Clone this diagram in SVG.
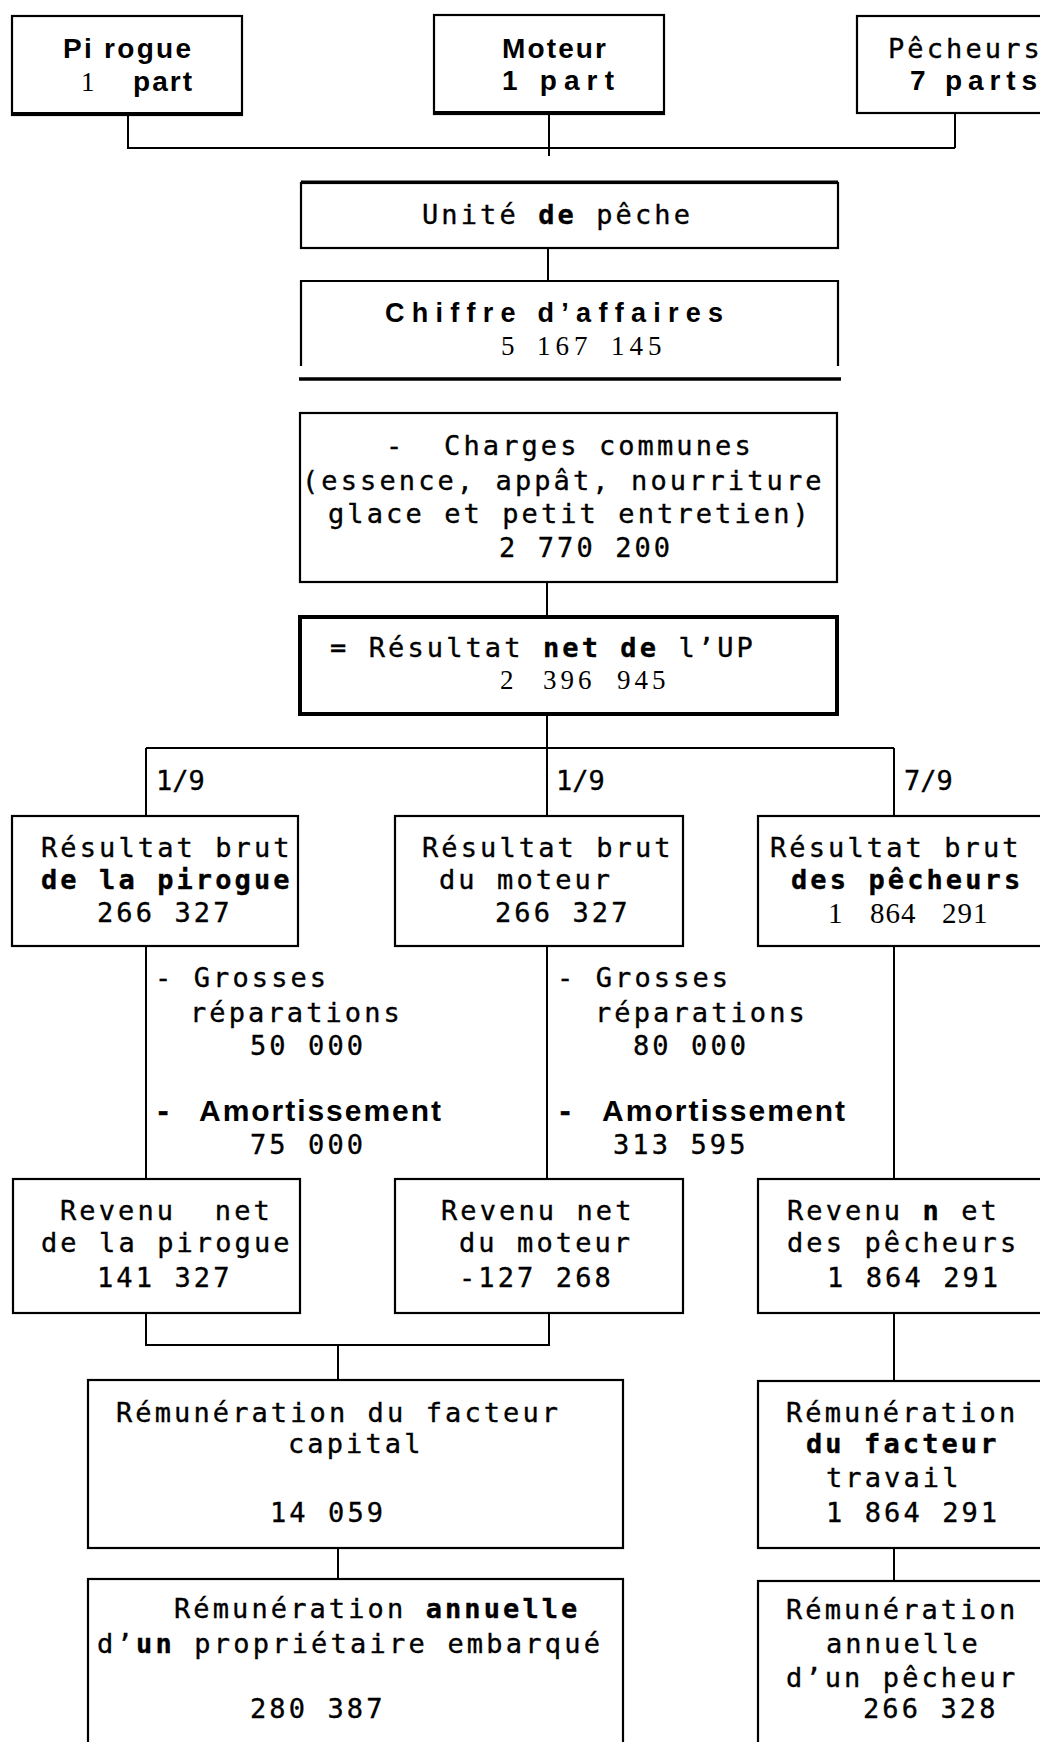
<svg xmlns="http://www.w3.org/2000/svg" width="1040" height="1742" viewBox="0 0 1040 1742">
<style>
.box{fill:none;stroke:#000;stroke-width:2.2}
.thick{fill:none;stroke:#000;stroke-width:4}
.ln{fill:none;stroke:#000;stroke-width:2}
.m{font-family:"DejaVu Sans Mono",monospace;font-size:27px;letter-spacing:3.1px;fill:#000;stroke:#000;stroke-width:0.35}
.b{font-weight:bold}
.h{font-family:"Liberation Sans",Arial,sans-serif;font-size:28px;font-weight:bold;fill:#000}
.s{font-family:"Liberation Serif","Times New Roman",serif;font-size:27px;fill:#000}
.f{letter-spacing:0px}
</style>
<rect width="1040" height="1742" fill="#fff"/>
<g id="connectors">
<path class="ln" d="M128,115 V148 H955 M955,113 V148 M549,114 V156"/>
<path class="ln" d="M548,248 V281"/>
<path class="ln" d="M547,582 V616 M547,714 V748 M146,748 H894 M146,748 V816 M547,748 V816 M894,748 V816"/>
<path class="ln" d="M146,946 V1179 M547,946 V1179 M894,946 V1179"/>
<path class="ln" d="M146,1313 V1345 H549 V1313 M338,1345 V1380 M894,1313 V1381"/>
<path class="ln" d="M338,1548 V1579 M894,1548 V1581"/>
</g>
<g id="pirogue">
<rect class="box" x="12" y="16" width="230" height="99"/>
<line class="thick" x1="11" y1="114" x2="243" y2="114"/>
<text class="h" x="63" y="58" textLength="128" lengthAdjust="spacing">Pi rogue</text>
<text class="s" x="81" y="91">1</text>
<text class="h" x="133" y="91" textLength="59" lengthAdjust="spacing">part</text>
</g>
<g id="moteur">
<rect class="box" x="434" y="15" width="230" height="99"/>
<line class="thick" x1="433" y1="113" x2="665" y2="113"/>
<text class="h" x="502" y="58" textLength="104" lengthAdjust="spacing">Moteur</text>
<text class="h" x="502" y="90" textLength="112" lengthAdjust="spacing">1 part</text>
</g>
<g id="pecheurs">
<rect class="box" x="857" y="16" width="200" height="97"/>
<text class="m" x="888" y="58">Pêcheurs</text>
<text class="h" x="910" y="90" textLength="127" lengthAdjust="spacing">7 parts</text>
</g>
<g id="unite">
<rect class="box" x="301" y="183" width="537" height="65"/>
<line class="thick" x1="301" y1="182" x2="838" y2="182" style="stroke-width:3"/>
<text class="m" x="422" y="224">Unité <tspan class="b">de</tspan> pêche</text>
</g>
<g id="chiffre">
<path class="box" d="M301,366 V281 H838 V366"/>
<line class="thick" x1="299" y1="379" x2="841" y2="379" style="stroke-width:3.5"/>
<text class="h" x="385" y="322" style="font-size:27px" textLength="338" lengthAdjust="spacing">Chiffre  d’affaires</text>
<text class="s" y="355" style="letter-spacing:5px"><tspan x="501">5 </tspan><tspan x="537">167 </tspan><tspan x="611">145</tspan></text>
</g>
<g id="charges">
<rect class="box" x="300" y="413" width="537" height="169"/>
<text class="m" x="386" y="455" xml:space="preserve">-  Charges communes</text>
<text class="m" x="302" y="490">(essence, appât, nourriture</text>
<text class="m" x="328" y="523">glace et petit entretien)</text>
<text class="m" x="499" y="557">2 770 200</text>
</g>
<g id="resultat-net">
<rect class="thick" x="300" y="617" width="537" height="97"/>
<text class="m" x="330" y="657">= Résultat <tspan class="b">net de</tspan> l’UP</text>
<text class="s" y="689" style="letter-spacing:4px"><tspan x="500">2 </tspan><tspan x="543">396 </tspan><tspan x="617">945</tspan></text>
</g>
<g id="labels">
<text class="m f" x="156" y="790">1/9</text>
<text class="m f" x="556" y="790">1/9</text>
<text class="m f" x="904" y="790">7/9</text>
</g>
<g id="brut-pirogue">
<rect class="box" x="12" y="816" width="286" height="130"/>
<text class="m" x="41" y="857">Résultat brut</text>
<text class="m b" x="41" y="889">de la pirogue</text>
<text class="m" x="97" y="922">266 327</text>
</g>
<g id="brut-moteur">
<rect class="box" x="395" y="816" width="288" height="130"/>
<text class="m" x="422" y="857">Résultat brut</text>
<text class="m" x="439" y="889">du moteur</text>
<text class="m" x="495" y="922">266 327</text>
</g>
<g id="brut-pecheurs">
<rect class="box" x="758" y="816" width="300" height="130"/>
<text class="m" x="770" y="857">Résultat brut</text>
<text class="m b" x="791" y="889">des pêcheurs</text>
<text class="s" y="923" style="font-size:29px;letter-spacing:1px"><tspan x="828">1 </tspan><tspan x="870">864 </tspan><tspan x="942">291</tspan></text>
</g>
<g id="deductions-pirogue">
<text class="m" x="155" y="987">- Grosses</text>
<text class="m" x="190" y="1022">réparations</text>
<text class="m" x="250" y="1055">50 000</text>
<text class="m b" x="155" y="1121">-</text>
<text class="h" x="199" y="1121" style="font-size:30px" textLength="242" lengthAdjust="spacing">Amortissement</text>
<text class="m" x="250" y="1154">75 000</text>
</g>
<g id="deductions-moteur">
<text class="m" x="557" y="987">- Grosses</text>
<text class="m" x="595" y="1022">réparations</text>
<text class="m" x="633" y="1055">80 000</text>
<text class="m b" x="557" y="1121">-</text>
<text class="h" x="602" y="1121" style="font-size:30px" textLength="243" lengthAdjust="spacing">Amortissement</text>
<text class="m" x="613" y="1154">313 595</text>
</g>
<g id="net-pirogue">
<rect class="box" x="13" y="1179" width="287" height="134"/>
<text class="m" x="60" y="1220" xml:space="preserve">Revenu  net</text>
<text class="m" x="41" y="1252">de la pirogue</text>
<text class="m" x="97" y="1287">141 327</text>
</g>
<g id="net-moteur">
<rect class="box" x="395" y="1179" width="288" height="134"/>
<text class="m" x="441" y="1220">Revenu net</text>
<text class="m" x="459" y="1252">du moteur</text>
<text class="m" x="459" y="1287">-127 268</text>
</g>
<g id="net-pecheurs">
<rect class="box" x="758" y="1179" width="300" height="134"/>
<text class="m" x="787" y="1220">Revenu <tspan class="b">n</tspan> et</text>
<text class="m" x="787" y="1252">des pêcheurs</text>
<text class="m" x="827" y="1287">1 864 291</text>
</g>
<g id="facteur-capital">
<rect class="box" x="88" y="1380" width="535" height="168"/>
<text class="m" x="116" y="1422">Rémunération du facteur</text>
<text class="m" x="288" y="1453">capital</text>
<text class="m" x="270" y="1522">14 059</text>
</g>
<g id="facteur-travail">
<rect class="box" x="758" y="1381" width="300" height="167"/>
<text class="m" x="786" y="1422">Rémunération</text>
<text class="m b" x="806" y="1453">du facteur</text>
<text class="m" x="826" y="1487">travail</text>
<text class="m" x="826" y="1522">1 864 291</text>
</g>
<g id="proprietaire">
<rect class="box" x="88" y="1579" width="535" height="200"/>
<text class="m" x="174" y="1618">Rémunération <tspan class="b">annuelle</tspan></text>
<text class="m" x="97" y="1653" textLength="506" lengthAdjust="spacing">d’<tspan class="b">un</tspan> propriétaire embarqué</text>
<text class="m" x="250" y="1718">280 387</text>
</g>
<g id="pecheur">
<rect class="box" x="758" y="1581" width="300" height="200"/>
<text class="m" x="786" y="1619">Rémunération</text>
<text class="m" x="826" y="1653">annuelle</text>
<text class="m" x="786" y="1687">d’un pêcheur</text>
<text class="m" x="863" y="1718">266 328</text>
</g>
</svg>
